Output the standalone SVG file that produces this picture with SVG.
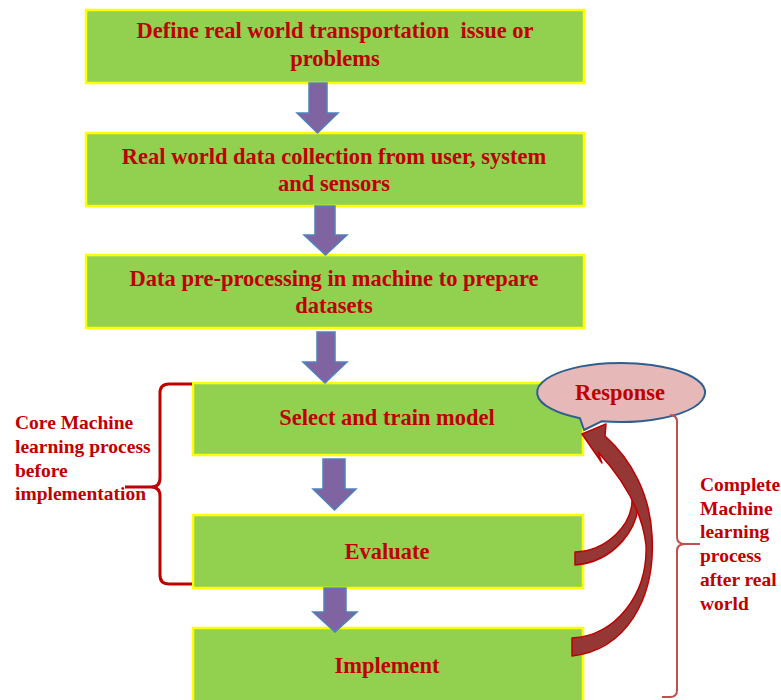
<svg xmlns="http://www.w3.org/2000/svg" width="781" height="700" viewBox="0 0 781 700">
<style>
.box{fill:#92d050;stroke:#ffff00;stroke-width:2.5}
.t{font-family:"Liberation Serif","Times New Roman",serif;font-weight:bold;fill:#c00000}
.bt{font-size:22.5px;text-anchor:middle}
.st{font-size:19.5px}
.dn{fill:#8064a2;stroke:#4f81bd;stroke-width:1.5;stroke-linejoin:miter}
.ca{fill:#953735;stroke:#c00000;stroke-width:1.5;stroke-linejoin:round}
</style>
<rect width="781" height="700" fill="#ffffff"/>
<g id="n1">
<rect class="box" x="86" y="10" width="498" height="73"/>
<text class="t bt" x="335" y="37.5" style="white-space:pre">Define real world transportation  issue or</text>
<text class="t bt" x="335" y="65.5">problems</text>
</g>
<g id="n2">
<rect class="box" x="86" y="133" width="498" height="73"/>
<text class="t bt" x="334" y="163.5">Real world data collection from user, system</text>
<text class="t bt" x="334" y="191">and sensors</text>
</g>
<g id="n3">
<rect class="box" x="86" y="255" width="498" height="73"/>
<text class="t bt" x="334" y="286">Data pre-processing in machine to prepare</text>
<text class="t bt" x="334" y="313">datasets</text>
</g>
<g id="n4">
<rect class="box" x="193" y="383" width="390" height="72"/>
<text class="t bt" x="387" y="425">Select and train model</text>
</g>
<g id="n5">
<rect class="box" x="193" y="515" width="390" height="73"/>
<text class="t bt" x="387" y="559">Evaluate</text>
</g>
<g id="n6">
<rect class="box" x="193" y="628" width="390" height="90"/>
<text class="t bt" x="387" y="673">Implement</text>
</g>
<g id="response">
<path d="M 580,418.2 A 84,29.5 0 1 1 602,421.2 L 584,430 Z" fill="#e6b9b8" stroke="#2f5f8f" stroke-width="2" stroke-linejoin="round"/>
<text class="t bt" x="620" y="400">Response</text>
</g>
<g id="label-core">
<text class="t st" x="15" y="429">Core Machine</text>
<text class="t st" x="15" y="453">learning process</text>
<text class="t st" x="15" y="476.5">before</text>
<text class="t st" x="15" y="500">implementation</text>
</g>
<g id="label-complete">
<text class="t st" x="700" y="491">Complete</text>
<text class="t st" x="700" y="514.7">Machine</text>
<text class="t st" x="700" y="538.4">learning</text>
<text class="t st" x="700" y="562">process</text>
<text class="t st" x="700" y="585.8">after real</text>
<text class="t st" x="700" y="609.5">world</text>
</g>
<g id="connectors">
<path class="dn" d="M 309,83 L 327,83 L 327,113 L 338,113 L 317.5,133 L 297,113 L 309,113 Z"/>
<path class="dn" d="M 315,206 L 335,206 L 335,235 L 347,235 L 325.5,255 L 304,235 L 315,235 Z"/>
<path class="dn" d="M 317,332 L 335,332 L 335,362 L 347,362 L 325,383 L 303,362 L 317,362 Z"/>
<path class="dn" d="M 323,459 L 345,459 L 345,489 L 356,489 L 334.5,510 L 313,489 L 323,489 Z"/>
<path class="dn" d="M 324,588 L 346,588 L 346,612 L 357,612 L 335,632 L 313,612 L 324,612 Z"/>
<path class="ca" d="M 575,565 C 612,562 642,530 638,494 C 636,475 625,458 606,440 L 598,452 C 615,470 630,480 632,496 C 634,525 606,551 575,552 Z"/>
<path class="ca" d="M 572,656 C 625,650 656,600 652,535 C 650,495 632,460 605,436 L 606,424 L 582,434 L 602,463 L 598,452 C 622,478 642,510 646,545 C 648,595 615,636 572,638 Z"/>
<path d="M 192,384 L 169,384 Q 160,384 160,393 L 160,478 Q 160,487 151,487 L 125,487 M 151,487 Q 160,487 160,496 L 160,575 Q 160,584 169,584 L 192,584" fill="none" stroke="#c00000" stroke-width="3"/>
<path d="M 670,415 Q 677,415 677,422 L 677,537 Q 677,544 685,544 L 700,544 M 685,544 Q 677,544 677,551 L 677,690 Q 677,697 670,697 L 662,697" fill="none" stroke="#c0504d" stroke-width="2"/>
</g>
</svg>
